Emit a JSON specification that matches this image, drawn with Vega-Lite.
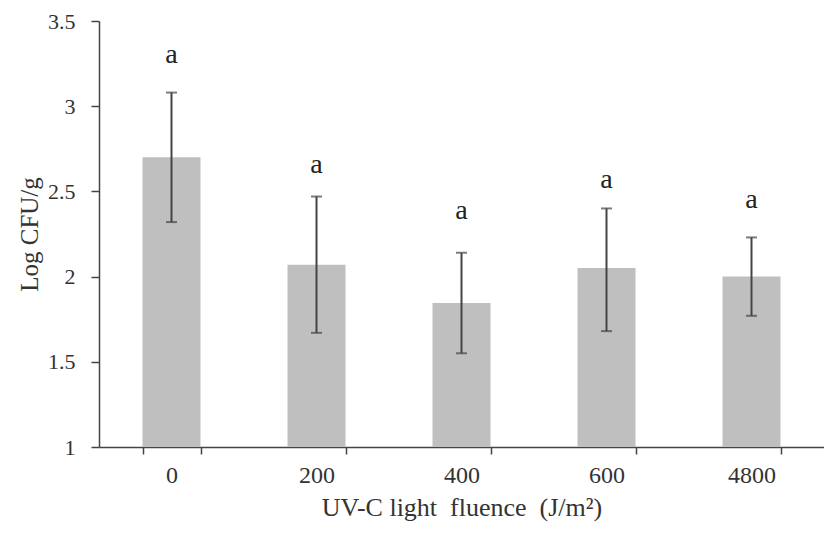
{
  "$schema": "https://vega.github.io/schema/vega-lite/v6.json",
  "width": 725,
  "height": 426,
  "autosize": {"type": "none"},
  "padding": {"left": 99, "top": 21, "right": 0, "bottom": 89},
  "background": "white",
  "config": {
    "view": {"stroke": null},
    "font": "Liberation Serif",
    "axis": {
      "grid": false,
      "domainColor": "#444444",
      "domainWidth": 1.5,
      "tickColor": "#444444",
      "tickWidth": 1.5,
      "labelFont": "Liberation Serif",
      "titleFont": "Liberation Serif",
      "labelColor": "#333333",
      "titleColor": "#333333",
      "titleFontWeight": "normal"
    }
  },
  "data": {
    "values": [
      {"fluence": "0", "mean": 2.70, "lo": 2.32, "hi": 3.08, "sig": "a", "sig_y": 3.28},
      {"fluence": "200", "mean": 2.07, "lo": 1.67, "hi": 2.47, "sig": "a", "sig_y": 2.64},
      {"fluence": "400", "mean": 1.845, "lo": 1.55, "hi": 2.14, "sig": "a", "sig_y": 2.37},
      {"fluence": "600", "mean": 2.05, "lo": 1.68, "hi": 2.40, "sig": "a", "sig_y": 2.55},
      {"fluence": "4800", "mean": 2.00, "lo": 1.77, "hi": 2.23, "sig": "a", "sig_y": 2.43}
    ]
  },
  "encoding": {
    "x": {
      "field": "fluence",
      "type": "ordinal",
      "sort": null,
      "scale": {"paddingInner": 0.6, "paddingOuter": 0.3},
      "axis": {
        "title": "UV-C light\u00a0 fluence\u00a0 (J/m²)",
        "labelAngle": 0,
        "labelFontSize": 24,
        "titleFontSize": 26,
        "tickBand": "extent",
        "tickSize": 7,
        "labelPadding": 9,
        "titlePadding": 7
      }
    }
  },
  "layer": [
    {
      "mark": {"type": "bar", "color": "#bfbfbf"},
      "encoding": {
        "y": {
          "field": "mean",
          "type": "quantitative",
          "scale": {"domain": [1, 3.5], "zero": false, "nice": false},
          "axis": {
            "title": "Log CFU/g",
            "values": [1, 1.5, 2, 2.5, 3, 3.5],
            "format": "~g",
            "labelFontSize": 22,
            "titleFontSize": 25,
            "tickSize": 8,
            "labelPadding": 16,
            "titlePadding": 5
          }
        },
        "y2": {"datum": 1}
      }
    },
    {
      "mark": {"type": "rule", "color": "#444444", "strokeWidth": 2},
      "encoding": {
        "y": {"field": "lo", "type": "quantitative"},
        "y2": {"field": "hi"}
      }
    },
    {
      "mark": {"type": "tick", "color": "#444444", "thickness": 2, "size": 11},
      "encoding": {
        "y": {"field": "lo", "type": "quantitative"}
      }
    },
    {
      "mark": {"type": "tick", "color": "#444444", "thickness": 2, "size": 11},
      "encoding": {
        "y": {"field": "hi", "type": "quantitative"}
      }
    },
    {
      "mark": {"type": "text", "fontSize": 28, "color": "#222222", "baseline": "middle", "dy": -3, "font": "Liberation Serif"},
      "encoding": {
        "y": {"field": "sig_y", "type": "quantitative"},
        "text": {"field": "sig"}
      }
    }
  ]
}
